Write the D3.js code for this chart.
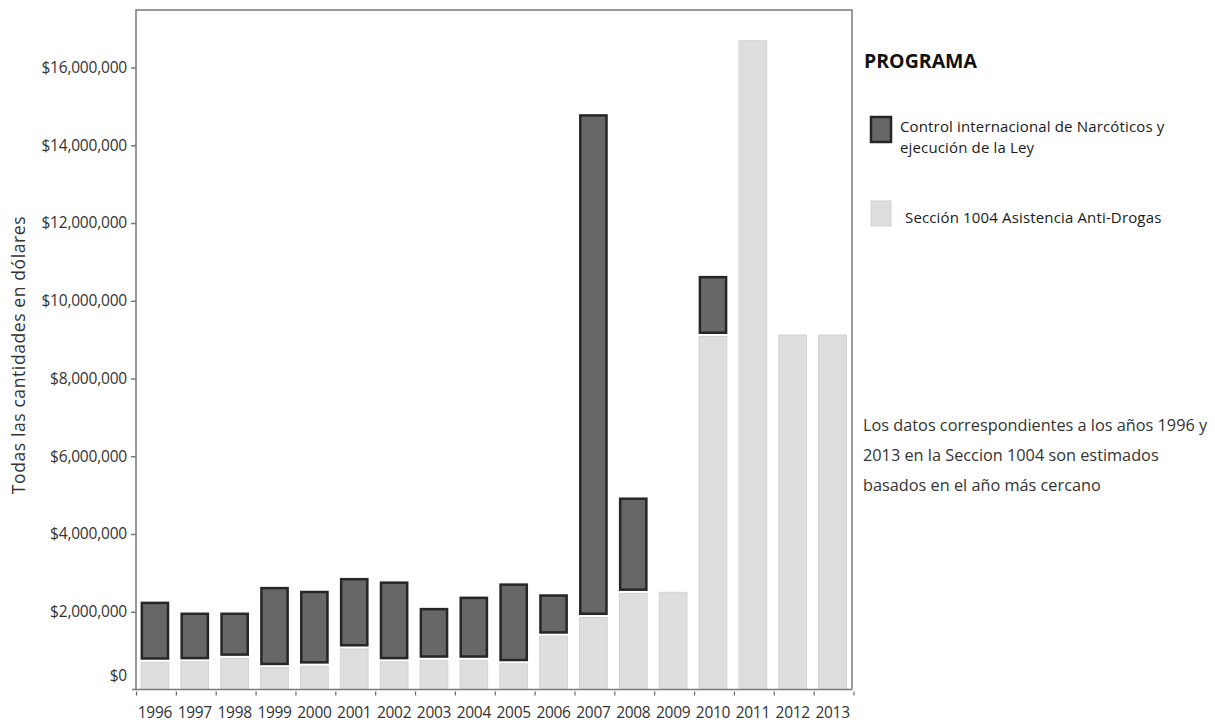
<!DOCTYPE html>
<html>
<head>
<meta charset="utf-8">
<script src="https://cdn.jsdelivr.net/npm/d3@7"></script>
<style>
  html, body { margin: 0; padding: 0; background: #fff; }
  svg { display: block; font-family: "Open Sans", sans-serif; }
</style>
</head>
<body>
<svg id="chart" width="1215" height="724"></svg>
<script>
// ---- data (US dollars) ----
const years = ["1996","1997","1998","1999","2000","2001","2002","2003","2004","2005","2006","2007","2008","2009","2010","2011","2012","2013"];
// Sección 1004 Asistencia Anti-Drogas (light, bottom)
const section1004 = [740000, 750000, 840000, 600000, 640000, 1080000, 750000, 790000, 790000, 700000, 1410000, 1890000, 2510000, 2500000, 9120000, 16690000, 9120000, 9120000];
// Control internacional de Narcóticos y ejecución de la Ley (dark, stacked on top)
const inl = [1520000, 1230000, 1140000, 2040000, 1900000, 1790000, 2030000, 1310000, 1600000, 2030000, 1040000, 12910000, 2430000, 0, 1520000, 0, 0, 0];
const yTicks = [0, 2000000, 4000000, 6000000, 8000000, 10000000, 12000000, 14000000, 16000000];
const seriesNames = ["Control internacional de Narcóticos y|ejecución de la Ley", "Sección 1004 Asistencia Anti-Drogas"];
const noteLines = ["Los datos correspondientes a los años 1996 y", "2013 en la Seccion 1004 son estimados", "basados en el año más cercano"];
const legendTitle = "PROGRAMA";
const yTitle = "Todas las cantidades en dólares";

const svg = d3.select("#chart");
const plot = { left: 136, right: 852, top: 10, bottom: 689.5 };

const x = d3.scaleBand().domain(years).range([135, 852.5]).paddingInner(0.28).paddingOuter(0.14);
const y = d3.scaleLinear().domain([0, 17480000]).range([plot.bottom, plot.top]);

const darkFill = "#676767", darkStroke = "#262626";
const lightFill = "#dedede", lightStroke = "#d2d2d2";

// light bars
svg.append("g").selectAll("rect").data(years).join("rect")
  .attr("x", d => x(d) + 0.5)
  .attr("width", x.bandwidth() - 1)
  .attr("y", (d, i) => y(section1004[i]) + (inl[i] > 0 ? 1.5 : 0))
  .attr("height", (d, i) => y(0) - y(section1004[i]) - (inl[i] > 0 ? 1.5 : 0))
  .attr("fill", lightFill)
  .attr("stroke", lightStroke)
  .attr("stroke-width", 1);

// dark bars
const darkData = years.map((d, i) => ({ d, i })).filter(o => inl[o.i] > 0);
svg.append("g").selectAll("rect").data(darkData).join("rect")
  .attr("x", o => x(o.d) + 1.25)
  .attr("width", x.bandwidth() - 2.5)
  .attr("y", o => y(section1004[o.i] + inl[o.i]) + 1.25)
  .attr("height", o => y(section1004[o.i]) - y(section1004[o.i] + inl[o.i]) - 3.5)
  .attr("fill", darkFill)
  .attr("stroke", darkStroke)
  .attr("stroke-width", 2.5);

// frame
const frameColor = "#7a7a7a";
svg.append("path")
  .attr("d", `M${plot.left},${plot.bottom}V${plot.top}H${plot.right}V${plot.bottom}`)
  .attr("fill", "none").attr("stroke", frameColor).attr("stroke-width", 1.5);
svg.append("line")
  .attr("x1", plot.left - 4).attr("x2", plot.right).attr("y1", plot.bottom).attr("y2", plot.bottom)
  .attr("stroke", frameColor).attr("stroke-width", 1.5);

// y axis
const yAxis = svg.append("g").attr("transform", `translate(${plot.left},0)`)
  .call(d3.axisLeft(y).tickValues(yTicks).tickSize(5).tickPadding(4)
    .tickFormat(v => "$" + d3.format(",")(v)));
yAxis.select(".domain").remove();
yAxis.selectAll(".tick line").attr("stroke", frameColor).attr("stroke-width", 1.5)
  .filter(v => v === 0).remove();
yAxis.selectAll(".tick text").attr("fill", "#333").attr("font-size", 15.5)
  .attr("font-family", "'Open Sans', sans-serif").attr("letter-spacing", "-0.2")
  .filter(v => v === 0).attr("dy", "-0.6em");

// x axis
const xAxis = svg.append("g").attr("transform", `translate(0,${plot.bottom})`)
  .call(d3.axisBottom(x).tickSize(0).tickPadding(17));
xAxis.select(".domain").remove();
xAxis.selectAll(".tick text").attr("fill", "#333").attr("font-size", 15.5)
  .attr("font-family", "'Open Sans', sans-serif").attr("letter-spacing", "-0.3");
const r0 = x.range()[0], step = x.step();
svg.append("g").selectAll("line").data(d3.range(years.length + 1)).join("line")
  .attr("x1", k => r0 + 1.5 + k * step).attr("x2", k => r0 + 1.5 + k * step)
  .attr("y1", plot.bottom + 2).attr("y2", plot.bottom + 6)
  .attr("stroke", "#666").attr("stroke-width", 1.2);

// y title
svg.append("text")
  .attr("transform", "translate(25,355) rotate(-90)")
  .attr("text-anchor", "middle")
  .attr("font-size", 17.5).attr("fill", "#333").attr("letter-spacing", "0.6")
  .text(yTitle);

// legend
svg.append("text").attr("x", 864).attr("y", 68)
  .attr("font-size", 19.5).attr("font-weight", "bold").attr("fill", "#111")
  .text(legendTitle);

const legendY = [117, 201];
const legendFill = [[darkFill, darkStroke], [lightFill, lightStroke]];
seriesNames.forEach((name, i) => {
  svg.append("rect").attr("x", 871).attr("y", legendY[i])
    .attr("width", 20).attr("height", 25)
    .attr("fill", legendFill[i][0]).attr("stroke", legendFill[i][1])
    .attr("stroke-width", i === 0 ? 2.5 : 1);
  const parts = name.split("|");
  const t = svg.append("text").attr("font-size", 15).attr("fill", "#1a1a1a")
    .attr("letter-spacing", "0.15");
  parts.forEach((p, j) => {
    t.append("tspan").attr("x", i === 0 ? 900 : 905)
      .attr("y", (i === 0 ? 132 : 223) + j * 21).text(p);
  });
});

// note
const note = svg.append("text").attr("font-size", 16.3).attr("fill", "#333");
noteLines.forEach((l, j) => {
  note.append("tspan").attr("x", 863).attr("y", 431 + j * 30).text(l);
});
</script>
</body>
</html>
